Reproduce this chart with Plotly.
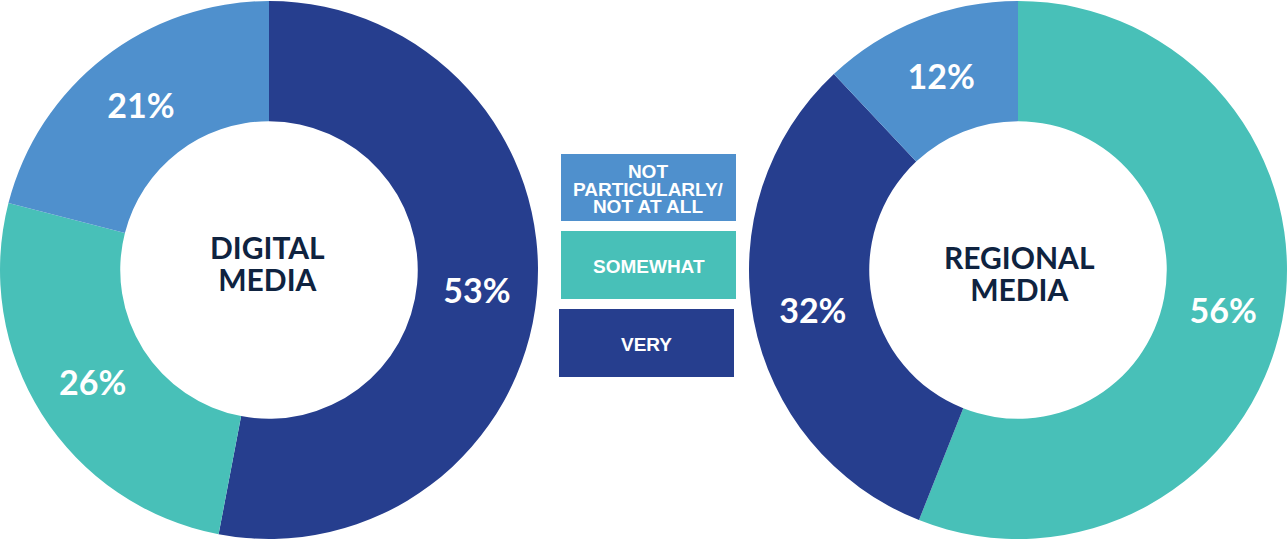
import plotly.graph_objects as go

# ---- data ----
NOT_P = "NOT<br>PARTICULARLY/<br>NOT AT ALL"
categories = [NOT_P, "SOMEWHAT", "VERY"]
colors = {NOT_P: "#4F90CD", "SOMEWHAT": "#48C0B8", "VERY": "#263E8E"}

digital_labels = ["VERY", "SOMEWHAT", NOT_P]
digital_values = [53, 26, 21]

regional_labels = ["SOMEWHAT", "VERY", NOT_P]
regional_values = [56, 32, 12]

titles = ["DIGITAL<br>MEDIA", "REGIONAL<br>MEDIA"]

W, H = 1288, 540
NAVY = "#0F2340"

fig = go.Figure()

def add_donut(labels, values, cx, r):
    fig.add_trace(go.Pie(
        labels=labels,
        values=values,
        sort=False,
        direction="clockwise",
        rotation=0,
        hole=0.553,
        marker=dict(colors=[colors[l] for l in labels], line=dict(width=0)),
        texttemplate="%{value}%",
        textposition="inside",
        insidetextorientation="horizontal",
        textfont=dict(family="Lato", size=34, color="white", weight="bold"),
        domain=dict(x=[max(0, (cx - r) / W), min(1, (cx + r) / W)], y=[0, 1]),
        showlegend=False,
        hoverinfo="label+value",
    ))

add_donut(digital_labels, digital_values, 269, 269)
add_donut(regional_labels, regional_values, 1018, 269)

annotations = []
shapes = []

def add_text(text, cx, cy, size, color, spacing, family):
    # base font size controls line spacing (1.3 x base); glyphs drawn at `size`
    lines = text.split("<br>")
    body = "<br>".join(f'<span style="font-size:{size}px">{ln}</span>' for ln in lines)
    annotations.append(dict(
        x=cx / W, y=1 - cy / H, xref="paper", yref="paper",
        text=body, showarrow=False, xanchor="center", yanchor="middle",
        font=dict(family=family, size=spacing / 1.3, color=color, weight="bold"),
    ))

add_text(titles[0], 267, 263, 30, NAVY, 32, "Lato")
add_text(titles[1], 1019, 273, 30, NAVY, 32, "Lato")

# legend boxes
boxes = [(561, 736, 154, 221), (561, 736, 231, 299), (559, 734, 309, 377)]
for cat, (x0, x1, y0, y1) in zip(categories, boxes):
    shapes.append(dict(type="rect", xref="paper", yref="paper",
                       x0=x0 / W, x1=x1 / W, y0=1 - y1 / H, y1=1 - y0 / H,
                       fillcolor=colors[cat], line=dict(width=0), layer="below"))
    add_text(cat, (x0 + x1) / 2, (y0 + y1) / 2 + 1, 19, "white", 17.5, "Liberation Sans")

fig.update_layout(
    width=W, height=H,
    margin=dict(l=0, r=0, t=0, b=0),
    paper_bgcolor="white",
    plot_bgcolor="white",
    annotations=annotations,
    shapes=shapes,
)

fig.write_html("out.html", config={"displayModeBar": False},
               post_script="document.body.style.margin='0px';")
